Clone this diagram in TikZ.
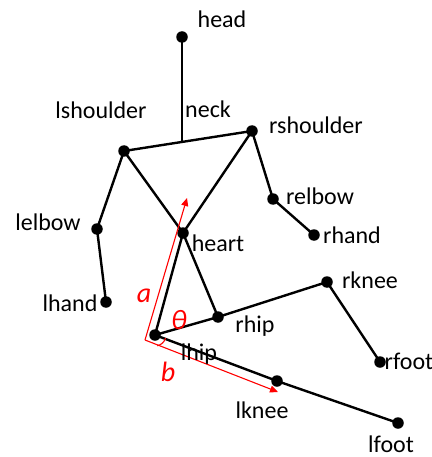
\documentclass[tikz,border=0pt]{standalone}
\usepackage{fontspec}
\setmainfont{Carlito}
\usetikzlibrary{arrows.meta}
\begin{document}
\begin{tikzpicture}[x=1pt,y=-1pt,
  joint/.style={circle,fill=black,inner sep=0pt,minimum size=11.5pt},
  lbl/.style={inner sep=0pt,font=\fontsize{24}{28}\selectfont},
  bone/.style={line width=2.4pt,black},
  redline/.style={red,line width=1.1pt},
  redlbl/.style={inner sep=0pt,text=red,font=\fontsize{28}{32}\selectfont\itshape}]
\useasboundingbox (0,0) rectangle (431,457);
% joints
\node[joint] (head) at (182,37) {};
\coordinate (neck) at (182,141);
\node[joint] (lshoulder) at (124,151) {};
\node[joint] (rshoulder) at (252,131) {};
\node[joint] (lelbow) at (97,229) {};
\node[joint] (lhand) at (106,302) {};
\node[joint] (relbow) at (273,199) {};
\node[joint] (rhand) at (314,235) {};
\node[joint] (heart) at (183,233) {};
\node[joint] (rhip) at (218,317) {};
\node[joint] (lhip) at (155,335) {};
\node[joint] (rknee) at (327,282) {};
\node[joint] (rfoot) at (380,362) {};
\node[joint] (lknee) at (277,381) {};
\node[joint] (lfoot) at (398,423) {};
% bones
\draw[bone] (head.center) -- (neck);
\draw[bone] (lshoulder.center) -- (rshoulder.center);
\draw[bone] (lshoulder.center) -- (lelbow.center) -- (lhand.center);
\draw[bone] (rshoulder.center) -- (relbow.center) -- (rhand.center);
\draw[bone] (lshoulder.center) -- (heart.center) -- (rhip.center);
\draw[bone] (rshoulder.center) -- (heart.center) -- (lhip.center);
\draw[bone] (lhip.center) -- (rhip.center) -- (rknee.center) -- (rfoot.center);
\draw[bone] (lhip.center) -- (lknee.center) -- (lfoot.center);
% red annotation
\coordinate (o) at (145,340);
\coordinate (aend) at (187,198);
\coordinate (bend) at (278,392);
\draw[redline,-{Triangle[length=8pt,width=7pt]}] (o) -- (aend);
\draw[redline,-{Triangle[length=8pt,width=7pt]}] (o) -- (bend);
\draw[redline] ([shift={(16:11)}]lhip.center) arc[start angle=16,end angle=78,radius=11];
% labels
\node[lbl] (thead) at (222,19) {head};
\node[lbl] (tneck) at (208,109) {neck};
\node[lbl] (tlshoulder) at (101,110) {lshoulder};
\node[lbl] (trshoulder) at (316,125) {rshoulder};
\node[lbl] (trelbow) at (320,196) {relbow};
\node[lbl] (trhand) at (352,235) {rhand};
\node[lbl] (theart) at (218,243) {heart};
\node[lbl] (tlelbow) at (48,222) {lelbow};
\node[lbl] (tlhand) at (70,303) {lhand};
\node[lbl] (trhip) at (255,326) {rhip};
\node[lbl] (tlhip) at (199,354) {lhip};
\node[lbl] (trknee) at (370,280) {rknee};
\node[lbl] (trfoot) at (409,361) {rfoot};
\node[lbl] (tlknee) at (262,410) {lknee};
\node[lbl] (tlfoot) at (391,444) {lfoot};
\node[redlbl] (ta) at (144,296) {a};
\node[redlbl] (tb) at (168,372) {b};
\node[redlbl] (ttheta) at (179,320) {θ};
\end{tikzpicture}
\end{document}
